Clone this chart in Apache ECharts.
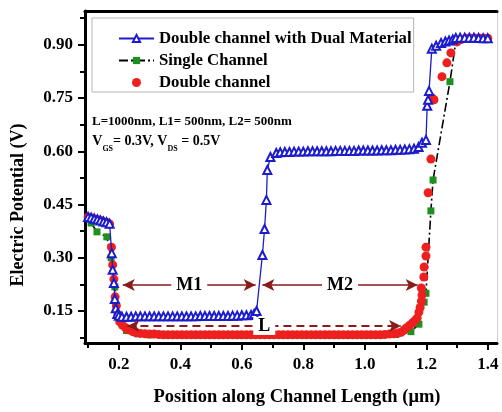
<!DOCTYPE html>
<html><head><meta charset="utf-8">
<script src="https://cdn.jsdelivr.net/npm/echarts@6/dist/echarts.min.js"></script>
<style>html,body{margin:0;padding:0;background:#fff}#c{width:502px;height:412px}</style>
</head><body><div id="c"></div>
<script>
const FONT = '"Liberation Serif","Times New Roman",serif';

const seriesNames = ['Double channel with Dual Material', 'Single Channel', 'Double channel'];
const xTicksMajor = [0.2, 0.4, 0.6, 0.8, 1.0, 1.2, 1.4];
const xTicksMinor = [0.1, 0.3, 0.5, 0.7, 0.9, 1.1, 1.3];
const yTicksMajor = [0.15, 0.30, 0.45, 0.60, 0.75, 0.90];
const yTicksMinor = [0.075, 0.225, 0.375, 0.525, 0.675, 0.825, 0.975];

const dualX = [0.100,0.110,0.120,0.130,0.140,0.150,0.160,0.170,0.177,0.180,0.184,0.187,0.190,0.195,0.200,
  0.210,0.225,0.240,0.255,0.270,0.285,0.300,0.315,0.330,0.345,0.360,0.375,0.390,0.405,0.420,0.435,0.450,0.465,0.480,0.495,0.510,0.525,0.540,0.555,0.570,0.585,0.600,0.615,0.630,
  0.640,0.648,0.667,0.674,0.680,0.683,0.693,0.712,
  0.725,0.740,0.755,0.770,0.785,0.800,0.815,0.830,0.845,0.860,0.875,0.890,0.905,0.920,0.935,0.950,0.965,0.980,0.995,1.010,1.025,1.040,1.055,1.070,1.085,1.100,1.115,1.130,1.145,1.160,
  1.175,1.186,1.199,1.203,1.206,1.209,1.218,1.232,1.248,1.262,1.274,1.286,1.296,1.310,1.325,1.340,1.355,1.370,1.385,1.400];
const dualY = [0.415,0.413,0.410,0.408,0.405,0.402,0.400,0.396,0.313,0.266,0.229,0.184,0.158,0.142,0.137,
  0.134,0.134,0.134,0.135,0.135,0.135,0.135,0.135,0.135,0.135,0.135,0.135,0.135,0.135,0.135,0.135,0.135,0.136,0.136,0.136,0.136,0.136,0.136,0.136,0.137,0.137,0.138,0.138,0.139,
  0.142,0.150,0.308,0.381,0.463,0.547,0.584,0.595,
  0.597,0.598,0.598,0.599,0.599,0.599,0.600,0.600,0.600,0.600,0.600,0.600,0.601,0.601,0.601,0.601,0.601,0.602,0.602,0.602,0.602,0.602,0.603,0.603,0.603,0.604,0.604,0.605,0.606,0.607,
  0.612,0.624,0.632,0.728,0.745,0.770,0.889,0.897,0.905,0.909,0.912,0.915,0.919,0.920,0.920,0.920,0.920,0.919,0.918,0.918];

const singleX = [0.110,0.129,0.161,0.175,0.187,0.203,0.225,0.260,0.300,
  0.350,0.400,0.450,0.500,0.550,0.600,0.650,0.700,0.750,0.800,0.850,0.900,0.950,1.000,1.050,1.100,
  1.150,1.176,1.193,1.199,1.215,1.222,1.277,1.296,1.330,1.370,1.400];
const singleY = [0.398,0.373,0.359,0.300,0.218,0.125,0.095,0.086,0.083,
  0.083,0.083,0.083,0.083,0.083,0.083,0.083,0.083,0.083,0.083,0.083,0.083,0.083,0.083,0.083,0.084,
  0.092,0.113,0.175,0.200,0.432,0.519,0.796,0.908,0.918,0.918,0.918];

const doubleX = [0.100,0.115,0.130,0.145,0.160,0.170,0.176,0.180,0.184,0.188,0.192,0.197,0.203,0.212,0.222,0.232,0.245,0.258,0.270,
  0.285,0.300,0.315,0.330,0.345,0.360,0.375,0.390,0.405,0.420,0.435,0.450,0.465,0.480,0.495,0.510,0.525,0.540,0.555,0.570,
  0.585,0.600,0.615,0.630,0.645,0.660,0.675,0.690,0.705,0.720,0.735,0.750,0.765,0.780,0.795,0.810,0.825,0.840,0.855,0.870,
  0.885,0.900,0.915,0.930,0.945,0.960,0.975,0.990,1.005,1.020,1.035,1.050,1.065,1.080,1.095,
  1.108,1.118,1.126,1.134,1.145,1.154,1.163,1.170,1.176,1.180,1.184,1.186,1.184,1.192,1.193,1.199,1.199,1.206,1.215,1.219,1.225,1.251,1.267,1.280,1.300,1.315,1.330,1.345,1.360,1.375,1.390,1.400];
const doubleY = [0.415,0.412,0.408,0.404,0.400,0.395,0.330,0.280,0.240,0.190,0.165,0.140,0.120,0.110,0.103,0.097,0.092,0.089,0.087,
  0.086,0.085,0.085,0.084,0.083,0.083,0.083,0.083,0.083,0.083,0.083,0.083,0.083,0.083,0.083,0.083,0.083,0.083,0.083,0.083,
  0.083,0.083,0.083,0.083,0.083,0.083,0.083,0.083,0.083,0.083,0.083,0.083,0.083,0.083,0.083,0.083,0.083,0.083,0.083,0.083,
  0.083,0.083,0.083,0.083,0.083,0.083,0.083,0.083,0.083,0.083,0.083,0.083,0.084,0.085,0.086,
  0.088,0.090,0.095,0.102,0.109,0.116,0.123,0.130,0.147,0.160,0.178,0.195,0.215,0.246,0.274,0.305,0.330,0.483,0.578,0.750,0.745,0.810,0.849,0.877,0.908,0.915,0.918,0.918,0.918,0.918,0.918,0.918];

// annotation arrows (data coordinates)
const arrowM1 = {label: 'M1', x0: 0.213, x1: 0.645, y: 0.223};
const arrowM2 = {label: 'M2', x0: 0.667, x1: 1.172, y: 0.223};
const arrowL  = {label: 'L',  x0: 0.228, x1: 1.118, y: 0.108};

const zip = (xs, ys) => xs.map((x, i) => [x, ys[i]]);

const X_MIN = 0.09, X_MAX = 1.43, Y_MIN = 0.06, Y_MAX = 0.995;
const ARROW = '#8b1a1a';
const BLUE = '#1c1ccc', RED = '#ee1f1f', GREEN = '#1f8f1f';

const bold = (size) => ({fontFamily: FONT, fontWeight: 'bold', fontSize: size, color: '#000'});

const gridRect = {left: 85, top: 11, right: 5, bottom: 69};

function arrowPair(a, dashed) {
  return [
    {name: a.label, coord: [a.x0, a.y], lineStyle: {type: dashed ? [8, 5] : 'solid', width: dashed ? 2 : 1.6, color: ARROW}},
    {coord: [a.x1, a.y]}
  ];
}

const option = {
  animation: false,
  backgroundColor: '#fff',
  grid: [Object.assign({}, gridRect), Object.assign({}, gridRect)],
  xAxis: [
    {type: 'value', gridIndex: 0, position: 'bottom', min: X_MIN, max: X_MAX,
      axisLine: {show: true, lineStyle: {color: '#000', width: 3}},
      axisTick: {show: true, inside: false, length: 7, lineStyle: {color: '#000', width: 2}, customValues: xTicksMajor},
      axisLabel: Object.assign({show: true, margin: 13, customValues: xTicksMajor, formatter: v => v.toFixed(1)}, bold(17)),
      splitLine: {show: false}},
    {type: 'value', gridIndex: 0, position: 'top', min: X_MIN, max: X_MAX,
      axisLine: {show: true, lineStyle: {color: '#000', width: 3}},
      axisTick: {show: false}, axisLabel: {show: false}, splitLine: {show: false}},
    {type: 'value', gridIndex: 1, position: 'bottom', min: X_MIN, max: X_MAX,
      axisLine: {show: false},
      axisTick: {show: true, inside: false, length: 5, lineStyle: {color: '#000', width: 2}, customValues: xTicksMinor},
      axisLabel: {show: false}, splitLine: {show: false}}
  ],
  yAxis: [
    {type: 'value', gridIndex: 0, position: 'left', min: Y_MIN, max: Y_MAX,
      axisLine: {show: true, lineStyle: {color: '#000', width: 3}},
      axisTick: {show: true, inside: false, length: 7, lineStyle: {color: '#000', width: 2}, customValues: yTicksMajor},
      axisLabel: Object.assign({show: true, margin: 12, customValues: yTicksMajor, formatter: v => v.toFixed(2)}, bold(17)),
      splitLine: {show: false}},
    {type: 'value', gridIndex: 0, position: 'right', min: Y_MIN, max: Y_MAX,
      axisLine: {show: true, lineStyle: {color: '#cfcfcf', width: 1}},
      axisTick: {show: false}, axisLabel: {show: false}, splitLine: {show: false}},
    {type: 'value', gridIndex: 1, position: 'left', min: Y_MIN, max: Y_MAX,
      axisLine: {show: false},
      axisTick: {show: true, inside: false, length: 5, lineStyle: {color: '#000', width: 2}, customValues: yTicksMinor},
      axisLabel: {show: false}, splitLine: {show: false}}
  ],
  legend: {
    orient: 'vertical', left: 92, top: 18,
    padding: [12, 2, 1, 26], itemGap: 5, itemWidth: 35, itemHeight: 9,
    backgroundColor: '#fff', borderColor: '#b5b5b5', borderWidth: 1,
    textStyle: bold(16.8),
    data: seriesNames
  },
  series: [
    {name: seriesNames[1], type: 'line', xAxisIndex: 0, yAxisIndex: 0, z: 2,
      data: zip(singleX, singleY),
      symbol: 'rect', symbolSize: 7,
      itemStyle: {color: GREEN},
      lineStyle: {color: '#000', width: 1.6, type: [9, 3, 2, 3]}},
    {name: seriesNames[2], type: 'scatter', xAxisIndex: 0, yAxisIndex: 0, z: 3,
      data: zip(doubleX, doubleY),
      symbol: 'circle', symbolSize: 9,
      itemStyle: {color: RED, opacity: 1}},
    {name: seriesNames[0], type: 'line', xAxisIndex: 0, yAxisIndex: 0, z: 4,
      data: zip(dualX, dualY),
      symbol: 'triangle', symbolSize: 8,
      itemStyle: {color: '#fff', borderColor: BLUE, borderWidth: 2},
      lineStyle: {color: BLUE, width: 1.3},
      markLine: {
        silent: true, symbol: ['arrow', 'arrow'], symbolSize: [9, 12],
        label: Object.assign({show: true, position: 'middle', formatter: '{b}', backgroundColor: '#fff',
          padding: [0, 5], verticalAlign: 'middle', distance: 0}, bold(18)),
        emphasis: {disabled: true},
        data: [arrowPair(arrowM1, false), arrowPair(arrowM2, false), arrowPair(arrowL, true)]
      }}
  ],
  graphic: [
    {type: 'text', x: 18, y: 205, rotation: Math.PI / 2,
      style: {text: 'Electric Potential (V)', font: 'bold 18px ' + FONT, fill: '#000', align: 'center', verticalAlign: 'middle'}},
    {type: 'text', x: 297, y: 397,
      style: {text: 'Position along Channel Length (\u03bcm)', font: 'bold 18.5px ' + FONT, fill: '#000', align: 'center', verticalAlign: 'middle'}},
    {type: 'text', x: 92, y: 115,
      style: {text: 'L=1000nm, L1= 500nm, L2= 500nm', font: 'bold 13px ' + FONT, fill: '#000'}},
    {type: 'text', x: 92, y: 129,
      style: {
        text: '{z| }{v|V}{s|GS}{v|= 0.3V, V}{s|DS}{v| = 0.5V}',
        rich: {
          z: {fontSize: 1, lineHeight: 24, verticalAlign: 'middle'},
          v: {fontFamily: FONT, fontWeight: 'bold', fontSize: 14, lineHeight: 14, verticalAlign: 'middle', fill: '#000'},
          s: {fontFamily: FONT, fontWeight: 'bold', fontSize: 8, lineHeight: 8, verticalAlign: 'bottom', fill: '#000'}
        }
      }}
  ]
};

const chart = echarts.init(document.getElementById('c'), null, {renderer: 'canvas'});
chart.setOption(option);
</script>
</body></html>
